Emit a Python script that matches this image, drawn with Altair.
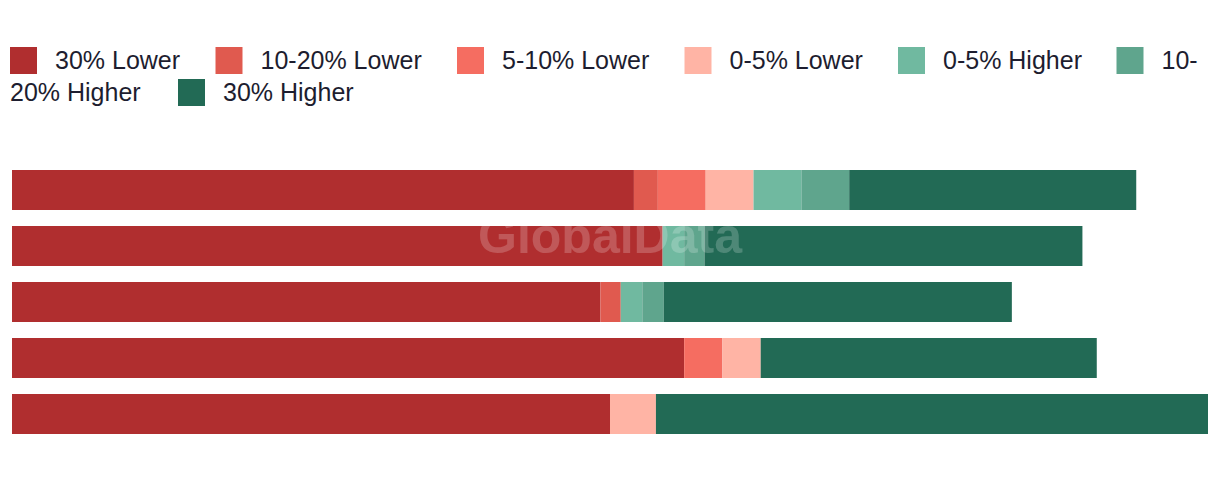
import altair as alt
import pandas as pd

categories = ["30% Lower", "10-20% Lower", "5-10% Lower", "0-5% Lower",
              "0-5% Higher", "10-20% Higher", "30% Higher"]
colors = ["#B02E2F", "#E05A4F", "#F56D61", "#FFB4A5", "#70B9A0", "#5FA58D", "#226A55"]
rows = ["Row 1", "Row 2", "Row 3", "Row 4", "Row 5"]

s_30_lower = [26.0, 27.2, 24.6, 28.1, 25.0]
s_10_20_lower = [1.0, 0.0, 0.85, 0.0, 0.0]
s_5_10_lower = [2.0, 0.0, 0.0, 1.6, 0.0]
s_0_5_lower = [2.0, 0.0, 0.0, 1.6, 1.92]
s_0_5_higher = [2.0, 0.9, 0.9, 0.0, 0.0]
s_10_20_higher = [2.0, 0.85, 0.9, 0.0, 0.0]
s_30_higher = [12.0, 15.8, 14.55, 14.05, 23.08]

series = [s_30_lower, s_10_20_lower, s_5_10_lower, s_0_5_lower,
          s_0_5_higher, s_10_20_higher, s_30_higher]

records = []
for ci, (cat, vals) in enumerate(zip(categories, series)):
    for r, v in zip(rows, vals):
        if v > 0:
            records.append({"row": r, "cat": cat, "idx": ci, "value": v})
df = pd.DataFrame(records)

FONT = "Liberation Sans"
LABEL_COLOR = "#1d1d2f"

x_enc = alt.X("sum(value):Q", axis=None, scale=alt.Scale(domain=[0, 50], nice=False, zero=True))
y_enc = alt.Y("row:N", axis=None, sort=rows,
              scale=alt.Scale(paddingInner=16 / 56, paddingOuter=8 / 56))

bars = alt.Chart(df).mark_bar().encode(
    x=x_enc,
    y=y_enc,
    color=alt.Color(
        "cat:N",
        scale=alt.Scale(domain=categories, range=colors),
        legend=alt.Legend(
            values=categories[:6],
            labelExpr="datum.label == '10-20% Higher' ? '10-' : datum.label",
            orient="none", legendX=-2, legendY=-115, direction="horizontal",
            title=None, symbolType="square", symbolSize=729, symbolStrokeWidth=0,
            symbolOpacity=1, labelFont=FONT, labelFontSize=25, labelColor=LABEL_COLOR,
            labelOffset=18, columnPadding=34.5, labelLimit=400, padding=0,
        ),
    ),
    order=alt.Order("idx:Q", sort="ascending"),
)

df_last = df[df["cat"] == "30% Higher"]
legend2 = alt.Chart(df_last).mark_square(opacity=0, size=1).encode(
    x=alt.X("value:Q", axis=None, scale=alt.Scale(domain=[0, 50], nice=False)),
    y=y_enc,
    fill=alt.Fill(
        "cat:N",
        scale=alt.Scale(domain=["30% Higher"], range=[colors[6]]),
        legend=alt.Legend(
            orient="none", legendX=166, legendY=-83, direction="horizontal",
            title=None, symbolType="square", symbolSize=729, symbolStrokeWidth=0,
            symbolOpacity=1, labelFont=FONT, labelFontSize=25, labelColor=LABEL_COLOR,
            labelOffset=18, labelLimit=400, padding=0,
        ),
    ),
)

wrap_text = alt.Chart(pd.DataFrame({"t": ["20% Higher"]})).mark_text(
    align="left", baseline="alphabetic", font=FONT, fontSize=25, color=LABEL_COLOR
).encode(x=alt.value(-2), y=alt.value(-61), text="t:N")

watermark = alt.Chart(pd.DataFrame({"t": ["GlobalData"]})).mark_text(
    align="center", baseline="alphabetic", font=FONT, fontSize=50, fontWeight="bold",
    color="#ffffff", opacity=0.2
).encode(x=alt.value(598), y=alt.value(91), text="t:N")

chart = alt.layer(bars, legend2, wrap_text, watermark).properties(
    width=1196, height=280,
    autosize=alt.AutoSizeParams(type="none"),
    padding={"left": 12, "top": 162, "right": 12, "bottom": 36},
    background="#ffffff",
).configure_view(stroke=None)

chart.save("out.html", embed_options={"renderer": "svg", "actions": False})
